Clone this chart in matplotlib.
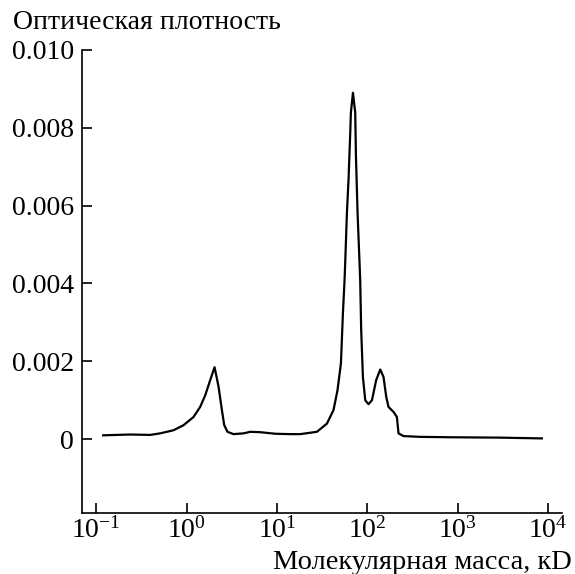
import numpy as np
import matplotlib.pyplot as plt
from matplotlib.ticker import FuncFormatter, NullLocator, LogLocator

plt.rcParams['font.family'] = ['Liberation Serif', 'DejaVu Serif']
plt.rcParams['mathtext.fontset'] = 'stix'

# curve: log10 of molecular mass (kD) and optical density
log_mass = [-0.923, -0.624, -0.403, -0.292, -0.145, -0.034, 0.076, 0.150, 0.206,
            0.261, 0.309, 0.353, 0.390, 0.416, 0.452, 0.519, 0.629, 0.704,
            0.814, 0.980, 1.146, 1.257, 1.441, 1.552, 1.625, 1.669, 1.707,
            1.729, 1.747, 1.754, 1.773, 1.791, 1.810, 1.817, 1.840, 1.865,
            1.873, 1.891, 1.913, 1.920, 1.931, 1.950, 1.976, 2.012, 2.050,
            2.097, 2.142, 2.178, 2.208, 2.233, 2.289, 2.326, 2.344, 2.399,
            2.584, 2.916, 3.469, 3.930]
density = [0.00010, 0.00012, 0.00011, 0.00015, 0.00023, 0.00036, 0.00057, 0.00083, 0.00113,
           0.00152, 0.00185, 0.00135, 0.00075, 0.00036, 0.00019, 0.00013, 0.00015, 0.00019,
           0.00018, 0.00014, 0.00013, 0.00013, 0.00019, 0.00040, 0.00075, 0.00126, 0.00195,
           0.00324, 0.00409, 0.00452, 0.00581, 0.00667, 0.00787, 0.00839, 0.00890, 0.00839,
           0.00727, 0.00581, 0.00452, 0.00409, 0.00281, 0.00160, 0.00100, 0.00090, 0.00100,
           0.00152, 0.00179, 0.00160, 0.00109, 0.00083, 0.00070, 0.00057, 0.00015, 0.00008,
           0.00006, 0.00005, 0.00004, 0.00002]

y_ticks = [0, 0.002, 0.004, 0.006, 0.008, 0.010]

mass = 10 ** np.array(log_mass)

fig = plt.figure(figsize=(5.75, 5.74), dpi=100)
ax = fig.add_axes([0.143, 0.106, 0.834, 0.807])
ax.plot(mass, density, color="black", lw=1.6, solid_joinstyle="round")

ax.set_xscale("log")
ax.set_xlim(10 ** -1.155, 10 ** 4.15)
ax.set_ylim(-0.0019, 0.010)
ax.xaxis.set_major_locator(LogLocator(base=10, numticks=10))
ax.xaxis.set_minor_locator(NullLocator())
ax.set_yticks(y_ticks)
ax.yaxis.set_major_formatter(FuncFormatter(lambda v, p: "0" if abs(v) < 1e-9 else "%.3f" % v))

for s in ["top", "right"]:
    ax.spines[s].set_visible(False)
for s in ["left", "bottom"]:
    ax.spines[s].set_linewidth(1.2)
ax.tick_params(direction="in", length=7, width=1.2, labelsize=20, pad=6)
ax.tick_params(axis="x", pad=3)

fig.text(0.022, 0.95, "Оптическая плотность", fontsize=20, ha="left", va="baseline")
fig.text(0.995, 0.008, "Молекулярная масса, кD", fontsize=20.5, ha="right", va="baseline")

plt.savefig("out.png", dpi=100)
